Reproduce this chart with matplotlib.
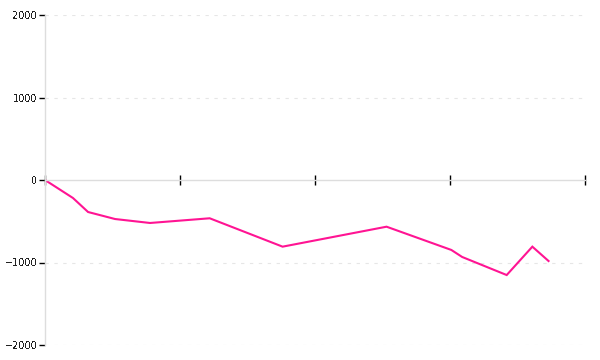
import matplotlib
matplotlib.use("Agg")
import matplotlib.pyplot as plt

x_vals = [0, 20.7, 31.9, 51.9, 77.8, 122, 176, 253, 301, 309, 342, 361, 373]
y_vals = [0, -218, -388, -473, -521, -464, -808, -566, -848, -933, -1152, -808, -982]
x_ticks = [0, 100, 200, 300, 400]
y_ticks = [-2000, -1000, 0, 1000, 2000]

plt.rcParams['text.antialiased'] = False
fig = plt.figure(figsize=(6, 3.6), dpi=100)
ax = fig.add_axes([0.075, 1 - 345 / 360, 0.9, 330 / 360])

ax.plot(x_vals, y_vals, color='#ff1493', linewidth=1.5, solid_joinstyle='miter')

ax.set_xlim(0, 400)
ax.set_ylim(-2000, 2000)
ax.set_xticks(x_ticks)
ax.set_xticklabels([])
ax.set_yticks(y_ticks)
ax.set_yticklabels([str(v).replace('-', '\u2212') for v in y_ticks])

for s in ['top', 'right']:
    ax.spines[s].set_visible(False)
ax.spines['left'].set_color('#dddddd')
ax.spines['bottom'].set_color('#dddddd')
ax.spines['bottom'].set_position(('data', 0))
ax.spines['left'].set_linewidth(1)
ax.spines['bottom'].set_linewidth(1)

ax.tick_params(axis='x', direction='inout', length=7, width=1, color='black')
ax.tick_params(axis='y', direction='out', length=4, width=1, color='black',
               labelsize=7, pad=1.5, labelcolor='#222222')

for v in y_ticks:
    if v != 0:
        ax.axhline(v, color='#e6e6e6', linewidth=0.8, linestyle=(0, (3, 5)), zorder=0)

fig.savefig('out.png', dpi=100)
